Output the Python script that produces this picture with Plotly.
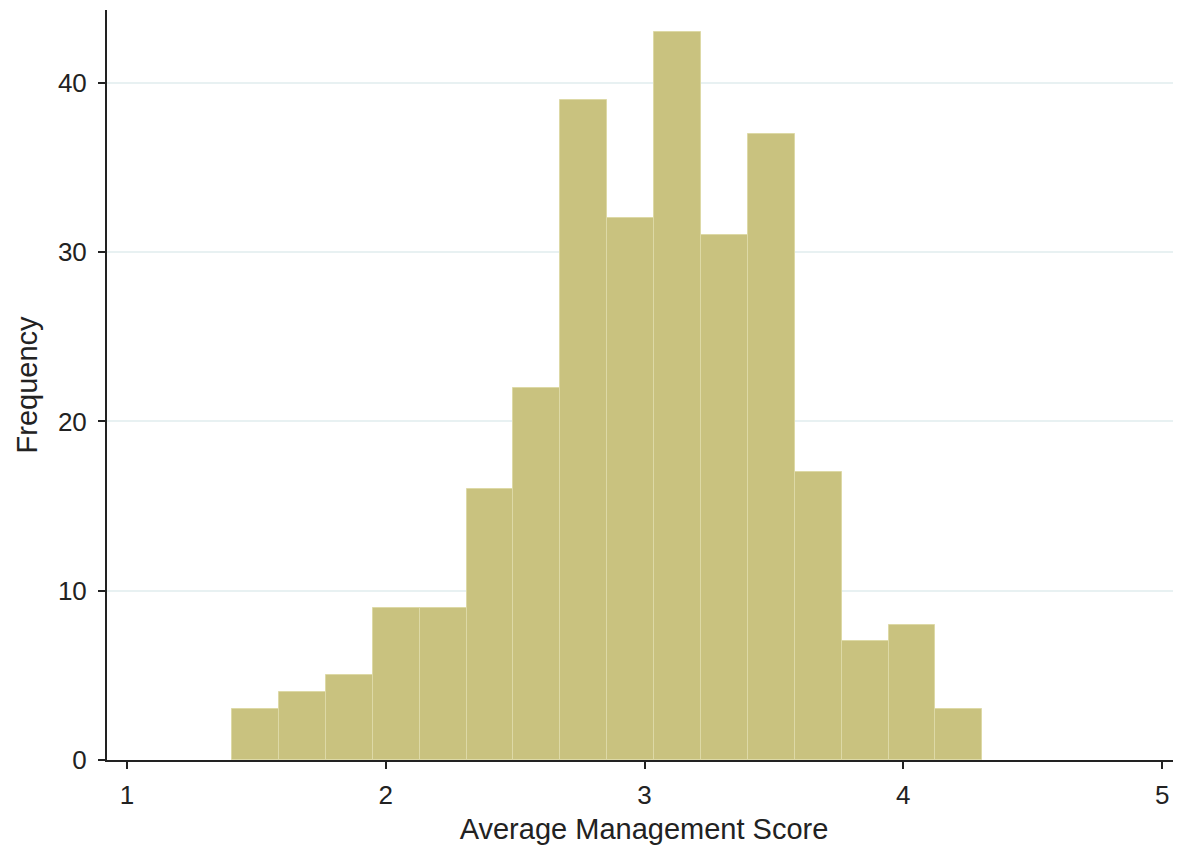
import plotly.graph_objects as go

# Histogram data
bin_start = 1.406
bin_width = 0.1812
counts = [3, 4, 5, 9, 9, 16, 22, 39, 32, 43, 31, 37, 17, 7, 8, 3]
x_ticks = [1, 2, 3, 4, 5]
y_ticks = [0, 10, 20, 30, 40]

centers = [bin_start + bin_width * (i + 0.5) for i in range(len(counts))]

fig = go.Figure()
fig.add_trace(go.Bar(
    x=centers, y=counts, width=[bin_width] * len(counts),
    marker=dict(color="#c9c27f", line=dict(color="#ddd9a6", width=1)),
    showlegend=False,
))

font = dict(family="Liberation Sans, Arial, sans-serif", size=26, color="#222222")

# The page body has an 8px default margin, so the figure is sized/offset to match.
fig.update_layout(
    width=1173, height=842,
    margin=dict(l=99, r=0, t=2, b=90),
    paper_bgcolor="white", plot_bgcolor="white",
    font=font,
    bargap=0,
    xaxis=dict(
        range=[0.9227, 5.073], tickvals=x_ticks, ticks="outside", ticklen=7,
        tickwidth=1.5, tickcolor="#222222", ticklabelstandoff=4,
        showline=True, linecolor="#222222", linewidth=2, showgrid=False, zeroline=False,
        title=dict(text="Average Management Score", font=dict(size=29), standoff=9),
        automargin=False,
    ),
    yaxis=dict(
        range=[0, 44.3], tickvals=y_ticks, ticks="outside", ticklen=7,
        tickwidth=1.5, tickcolor="#222222", ticklabelstandoff=6,
        showline=True, linecolor="#222222", linewidth=2,
        showgrid=True, gridcolor="#e8f1f2", gridwidth=1.5, zeroline=False,
        title=dict(text="Frequency", font=dict(size=29), standoff=12),
        automargin=False,
    ),
)

fig.write_html("out.html")
